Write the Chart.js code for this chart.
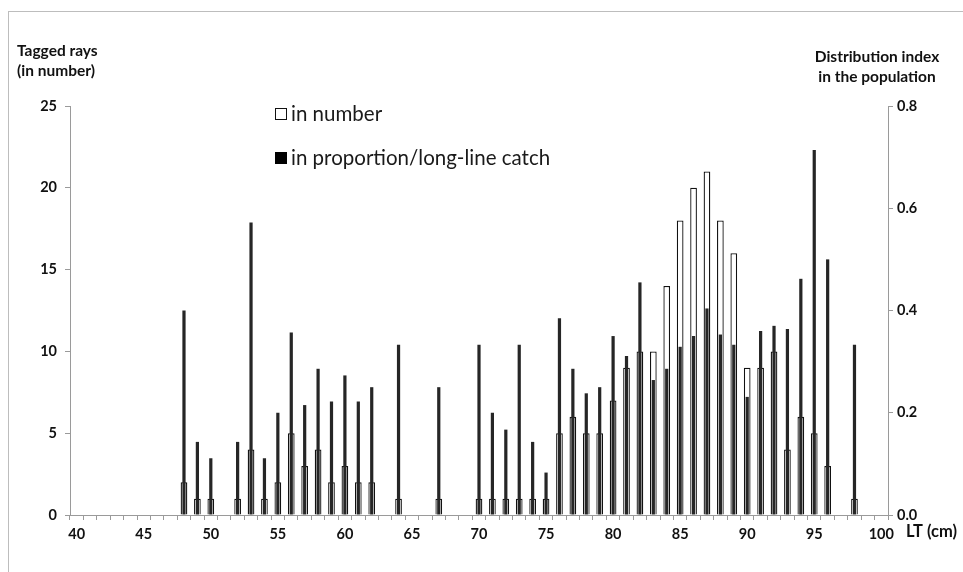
<!DOCTYPE html>
<html>
<head>
<meta charset="utf-8">
<script src="https://cdn.jsdelivr.net/npm/chart.js@4.4.1/dist/chart.umd.min.js"></script>
<style>
  html, body { margin: 0; padding: 0; background: #fff; }
  #wrap { position: relative; width: 963px; height: 572px; }
  #frame { position: absolute; left: 8px; top: 11px; right: -2px; bottom: -2px;
           border-top: 1px solid #bdbdbd; border-left: 1px solid #bdbdbd; }
</style>
</head>
<body>
<div id="wrap">
  <div id="frame"></div>
  <canvas id="lenChart" width="963" height="572"></canvas>
</div>
<script>
// length classes (LT, cm)
var lengths = ['40','41','42','43','44','45','46','47','48','49',
               '50','51','52','53','54','55','56','57','58','59',
               '60','61','62','63','64','65','66','67','68','69',
               '70','71','72','73','74','75','76','77','78','79',
               '80','81','82','83','84','85','86','87','88','89',
               '90','91','92','93','94','95','96','97','98','99','100'];

// tagged rays, in number (left axis)
var taggedNumber = [null,null,null,null,null,null,null,null,2,1,
                    1,null,1,4,1,2,5,3,4,2,
                    3,2,2,null,1,null,null,1,null,null,
                    1,1,1,1,1,1,5,6,5,5,
                    7,9,10,10,14,18,20,21,18,16,
                    9,9,10,4,6,5,3,null,1,null,null];

// distribution index in the population, proportion / long-line catch (right axis)
var distIndex = [null,null,null,null,null,null,null,null,0.40,0.143,
                 0.111,null,0.143,0.572,0.111,0.20,0.357,0.215,0.286,0.222,
                 0.273,0.222,0.25,null,0.333,null,null,0.25,null,null,
                 0.333,0.20,0.167,0.333,0.143,0.083,0.385,0.286,0.238,0.25,
                 0.35,0.311,0.455,0.264,0.286,0.329,0.35,0.404,0.353,0.333,
                 0.231,0.36,0.37,0.364,0.462,0.714,0.5,null,0.333,null,null];

var leftTicks = [0, 5, 10, 15, 20, 25];
var rightTicks = [0, 0.2, 0.4, 0.6, 0.8];

var FONT = 'Lato, "Open Sans", "Liberation Sans", sans-serif';
var AXIS_GREY = '#9a9a9a';

// titles and in-plot legend
var annotations = {
    id: 'annotations',
    afterDraw: function(chart) {
        var c = chart.ctx;
        c.save();
        c.fillStyle = '#111';
        c.font = 'bold 15.5px ' + FONT;
        c.textBaseline = 'middle';
        c.textAlign = 'left';
        c.fillText('Tagged rays', 17, 51);
        c.fillText('(in number)', 17, 71);
        c.textAlign = 'center';
        c.fillText('Distribution index', 877, 57);
        c.fillText('in the population', 877, 77);
        c.textAlign = 'left';
        c.font = 'bold 16.5px ' + FONT;
        c.fillText('LT (cm)', 906, 532);

        // legend
        c.font = '20.5px ' + FONT;
        c.fillStyle = '#1a1a1a';
        c.fillText('in number', 291, 114);
        c.fillText('in proportion/long-line catch', 291, 158);
        c.lineWidth = 1;
        c.strokeStyle = '#111';
        c.fillStyle = '#fff';
        c.fillRect(275.5, 108.5, 11, 11);
        c.strokeRect(275.5, 108.5, 11, 11);
        c.fillStyle = '#000';
        c.fillRect(275, 152, 12, 12);
        c.restore();
    }
};

var ctx = document.getElementById('lenChart').getContext('2d');

var lenChart = new Chart(ctx, {
    type: 'bar',
    data: {
        labels: lengths,
        datasets: [{
            label: 'in proportion/long-line catch',
            data: distIndex,
            yAxisID: 'y2',
            backgroundColor: '#262626',
            borderWidth: 0,
            grouped: false,
            barPercentage: 0.24,
            categoryPercentage: 1,
            order: 0
        }, {
            label: 'in number',
            data: taggedNumber,
            yAxisID: 'y',
            backgroundColor: '#fff',
            borderColor: '#111',
            borderWidth: 1.3,
            grouped: false,
            barPercentage: 0.5,
            categoryPercentage: 1,
            order: 1
        }]
    },
    options: {
        responsive: false,
        animation: false,
        layout: { padding: { top: 106, left: 0, right: 0, bottom: 0 } },
        plugins: {
            legend: { display: false },
            tooltip: { enabled: false }
        },
        scales: {
            x: {
                type: 'category',
                offset: true,
                grid: {
                    offset: true,
                    drawOnChartArea: false,
                    drawTicks: true,
                    tickLength: 5,
                    color: AXIS_GREY
                },
                border: { color: AXIS_GREY },
                ticks: {
                    autoSkip: false,
                    maxRotation: 0,
                    padding: 6,
                    color: '#111',
                    font: { family: FONT, size: 14.5, weight: 'bold' },
                    callback: function(val, i) {
                        var l = Number(lengths[i]);
                        return l % 5 === 0 ? lengths[i] : '';
                    }
                },
                afterFit: function(s) { s.height = 57; }
            },
            y: {
                position: 'left',
                min: 0,
                max: 25,
                afterBuildTicks: function(s) {
                    s.ticks = leftTicks.map(function(v) { return { value: v }; });
                },
                grid: { drawOnChartArea: false, tickLength: 5, color: AXIS_GREY },
                border: { color: AXIS_GREY },
                ticks: {
                    padding: 8,
                    color: '#111',
                    font: { family: FONT, size: 14.5, weight: 'bold' }
                },
                afterFit: function(s) { s.width = 70; }
            },
            y2: {
                position: 'right',
                min: 0,
                max: 0.8,
                afterBuildTicks: function(s) {
                    s.ticks = rightTicks.map(function(v) { return { value: v }; });
                },
                grid: { drawOnChartArea: false, tickLength: 5, color: AXIS_GREY },
                border: { color: AXIS_GREY },
                ticks: {
                    padding: 4,
                    color: '#111',
                    font: { family: FONT, size: 14.5, weight: 'bold' },
                    callback: function(v) { return Number(v).toFixed(1); }
                },
                afterFit: function(s) { s.width = 75; }
            }
        }
    },
    plugins: [annotations]
});
</script>
</body>
</html>
